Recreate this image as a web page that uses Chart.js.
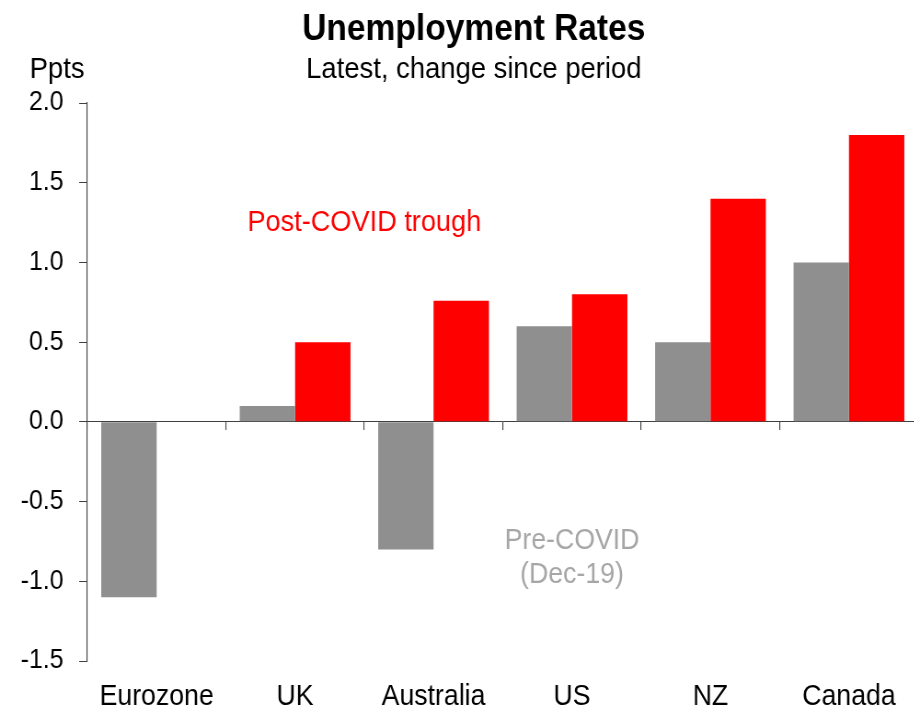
<!DOCTYPE html>
<html>
<head>
<meta charset="utf-8">
<script src="https://cdn.jsdelivr.net/npm/chart.js@4"></script>
<style>
  html, body { margin: 0; padding: 0; background: #ffffff; overflow: hidden; }
  /* chart is drawn wide then narrowed, giving the condensed lettering */
  #wrap { width: 998px; height: 710px; transform: scaleX(0.92); transform-origin: 0 0; }
</style>
</head>
<body>
<div id="wrap"><canvas id="unempChart" width="998" height="710"></canvas></div>
<script>
// countries and changes in unemployment rate (ppts)
const countries = ['Eurozone', 'UK', 'Australia', 'US', 'NZ', 'Canada'];
const preCovid = [-1.1, 0.1, -0.8, 0.6, 0.5, 1.0];      // since Dec-19
const postTrough = [null, 0.5, 0.76, 0.8, 1.4, 1.8];    // since post-COVID trough
const yTicks = [-1.5, -1.0, -0.5, 0.0, 0.5, 1.0, 1.5, 2.0];

const axisColor = '#404040';
const fontFamily = '"Liberation Sans", Arial, sans-serif';

// titles and the two in-chart series labels
const textPlugin = {
    id: 'chartText',
    afterDraw(chart) {
        const ctx = chart.ctx;
        const x = chart.scales.x;
        const y = chart.scales.y;
        ctx.save();
        ctx.textAlign = 'center';
        ctx.textBaseline = 'alphabetic';

        ctx.fillStyle = '#000000';
        ctx.font = 'bold 36.5px ' + fontFamily;
        ctx.fillText('Unemployment Rates', 515, 40);
        ctx.font = '29.8px ' + fontFamily;
        ctx.fillText('Latest, change since period', 515, 78);
        ctx.fillText('Ppts', 62, 78);

        // series labels sit inside the plot, placed by the scales
        ctx.textBaseline = 'middle';
        ctx.fillStyle = '#ff0000';
        ctx.font = '29.5px ' + fontFamily;
        ctx.fillText('Post-COVID trough', x.getPixelForValue(1.5), y.getPixelForValue(1.25));

        ctx.fillStyle = '#a6a6a6';
        ctx.font = '29px ' + fontFamily;
        ctx.fillText('Pre-COVID', x.getPixelForValue(3), y.getPixelForValue(-0.75));
        ctx.fillText('(Dec-19)', x.getPixelForValue(3), y.getPixelForValue(-0.96));
        ctx.restore();
    }
};

const ctx = document.getElementById('unempChart').getContext('2d');
const unempChart = new Chart(ctx, {
    type: 'bar',
    data: {
        labels: countries,
        datasets: [
            {
                label: 'Pre-COVID (Dec-19)',
                data: preCovid,
                backgroundColor: '#8f8f8f',
                borderWidth: 0
            },
            {
                label: 'Post-COVID trough',
                data: postTrough,
                backgroundColor: '#ff0000',
                borderWidth: 0
            }
        ]
    },
    options: {
        responsive: false,
        animation: false,
        devicePixelRatio: 1,
        layout: { padding: { top: 103, right: 0, left: 0, bottom: 0 } },
        datasets: {
            bar: { categoryPercentage: 0.8, barPercentage: 1.0 }
        },
        plugins: {
            legend: { display: false },
            tooltip: { enabled: false }
        },
        scales: {
            // category labels along the bottom
            x: {
                type: 'category',
                offset: true,
                grid: { display: false, offset: true },
                border: { display: false },
                ticks: {
                    color: '#000000',
                    font: { family: fontFamily, size: 29 },
                    padding: 11,
                    maxRotation: 0,
                    autoSkip: false
                },
                afterFit(scale) { scale.height = 49; }
            },
            // zero line with tick marks between categories
            xZero: {
                type: 'category',
                labels: countries,
                position: { y: 0 },
                offset: true,
                grid: {
                    offset: true,
                    drawOnChartArea: false,
                    drawTicks: true,
                    tickLength: 8,
                    color: axisColor,
                    lineWidth: 1.1
                },
                border: { display: true, color: axisColor, width: 1 },
                ticks: { display: false }
            },
            y: {
                min: -1.5,
                max: 2.0,
                afterBuildTicks(scale) {
                    scale.ticks = yTicks.map(v => ({ value: v }));
                },
                grid: {
                    drawOnChartArea: false,
                    drawTicks: true,
                    tickLength: 9,
                    color: axisColor,
                    lineWidth: 1
                },
                border: { display: true, color: axisColor, width: 1.1 },
                ticks: {
                    color: '#000000',
                    font: { family: fontFamily, size: 27 },
                    padding: 17,
                    callback: v => Number(v).toFixed(1)
                },
                afterFit(scale) { scale.width = 95; }
            }
        }
    },
    plugins: [textPlugin]
});
</script>
</body>
</html>
